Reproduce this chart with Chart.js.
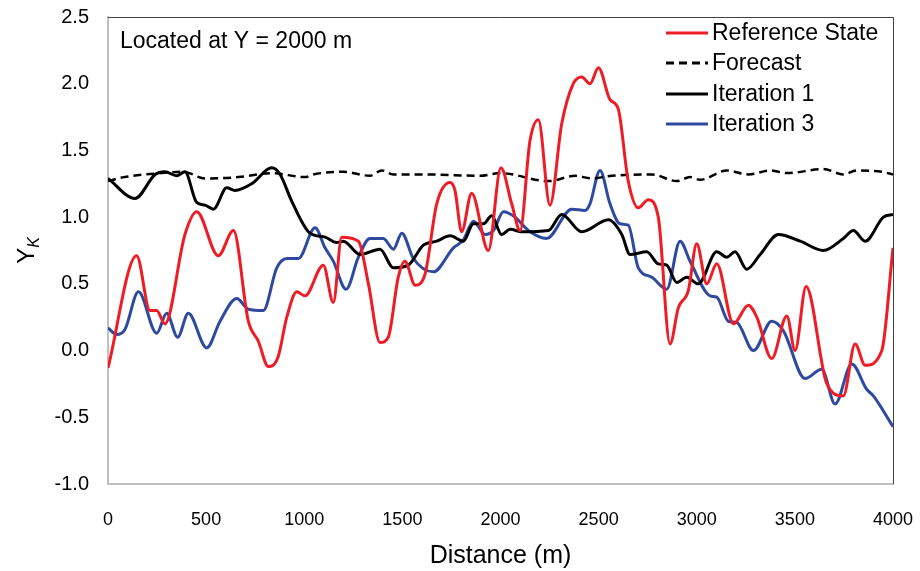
<!DOCTYPE html>
<html>
<head>
<meta charset="utf-8">
<script src="https://cdn.jsdelivr.net/npm/chart.js@4.4.1/dist/chart.umd.min.js"></script>
<style>
  html, body { margin: 0; padding: 0; background: #fff; }
</style>
</head>
<body>
<canvas id="myChart" width="920" height="571"></canvas>
<script>
// values: distance (m) and Y_K
const refX = [0, 146, 214, 248, 290, 392, 452, 562, 639, 715, 766, 817, 866, 911, 962, 1004, 1097, 1148, 1191, 1276, 1327, 1386, 1428, 1479, 1513, 1565, 1615, 1675, 1743, 1768, 1802, 1853, 1938, 2002, 2057, 2100, 2150, 2193, 2252, 2312, 2371, 2414, 2456, 2499, 2558, 2600, 2651, 2702, 2753, 2804, 2864, 2906, 2957, 3000, 3051, 3102, 3187, 3263, 3306, 3382, 3459, 3501, 3557, 3663, 3747, 3807, 3858, 3943, 4000];
const refY = [-0.13, 0.71, 0.30, 0.30, 0.20, 0.87, 1.04, 0.71, 0.90, 0.22, 0.07, -0.12, -0.05, 0.25, 0.44, 0.41, 0.64, 0.36, 0.85, 0.82, 0.50, 0.06, 0.10, 0.55, 0.67, 0.49, 0.57, 1.10, 1.26, 1.20, 0.89, 1.18, 0.75, 1.37, 1.10, 0.90, 1.57, 1.73, 1.09, 1.70, 2.00, 2.05, 2.00, 2.12, 1.88, 1.81, 1.27, 1.07, 1.13, 1.00, 0.05, 0.32, 0.45, 0.80, 0.50, 0.65, 0.20, 0.34, 0.25, -0.06, 0.26, 0.00, 0.48, -0.25, -0.34, 0.05, -0.11, 0.00, 0.77];

const fcX = [0, 82, 273, 384, 494, 664, 834, 1004, 1046, 1199, 1335, 1395, 1454, 1624, 1896, 1998, 2244, 2380, 2465, 2567, 2771, 2898, 2966, 3017, 3153, 3263, 3374, 3459, 3646, 3747, 3815, 3943, 4000];
const fcY = [1.27, 1.30, 1.33, 1.34, 1.29, 1.30, 1.33, 1.30, 1.32, 1.34, 1.31, 1.35, 1.32, 1.32, 1.31, 1.33, 1.27, 1.31, 1.29, 1.31, 1.32, 1.27, 1.30, 1.28, 1.35, 1.32, 1.35, 1.33, 1.36, 1.32, 1.35, 1.34, 1.32];

const it1X = [0, 138, 240, 290, 350, 392, 452, 494, 537, 605, 647, 732, 834, 877, 936, 1029, 1106, 1165, 1199, 1284, 1386, 1454, 1530, 1607, 1675, 1743, 1811, 1862, 1913, 1955, 2006, 2049, 2108, 2244, 2312, 2414, 2550, 2618, 2660, 2745, 2804, 2847, 2898, 2949, 3008, 3102, 3153, 3195, 3255, 3323, 3416, 3527, 3645, 3747, 3798, 3858, 3951, 4000];
const it1Y = [1.29, 1.14, 1.32, 1.34, 1.31, 1.34, 1.11, 1.09, 1.06, 1.22, 1.20, 1.25, 1.37, 1.32, 1.12, 0.88, 0.85, 0.81, 0.82, 0.72, 0.76, 0.62, 0.64, 0.79, 0.82, 0.86, 0.82, 0.95, 0.95, 1.01, 0.87, 0.91, 0.89, 0.90, 1.02, 0.89, 0.98, 0.87, 0.72, 0.74, 0.65, 0.64, 0.51, 0.55, 0.50, 0.74, 0.70, 0.74, 0.61, 0.72, 0.87, 0.82, 0.75, 0.84, 0.90, 0.82, 1.00, 1.02];

const it3X = [0, 44, 87, 155, 248, 299, 355, 409, 503, 571, 656, 715, 791, 860, 911, 970, 1055, 1106, 1148, 1213, 1276, 1335, 1403, 1454, 1497, 1556, 1658, 1760, 1811, 1862, 1921, 1964, 2015, 2074, 2142, 2235, 2363, 2431, 2456, 2507, 2558, 2609, 2651, 2702, 2771, 2847, 2915, 2966, 3068, 3102, 3161, 3204, 3289, 3382, 3441, 3552, 3637, 3705, 3790, 3866, 3900, 4000];
const it3Y = [0.17, 0.12, 0.16, 0.44, 0.13, 0.28, 0.10, 0.28, 0.02, 0.22, 0.39, 0.31, 0.30, 0.62, 0.69, 0.69, 0.92, 0.77, 0.67, 0.46, 0.70, 0.84, 0.84, 0.76, 0.88, 0.69, 0.59, 0.77, 0.83, 0.97, 0.87, 0.90, 1.04, 1.00, 0.90, 0.84, 1.06, 1.05, 1.10, 1.35, 1.10, 0.95, 0.94, 0.62, 0.55, 0.46, 0.82, 0.67, 0.41, 0.40, 0.22, 0.21, 0.00, 0.22, 0.15, -0.21, -0.14, -0.40, -0.10, -0.29, -0.34, -0.57];

const seriesNames = ['Reference State', 'Forecast', 'Iteration 1', 'Iteration 3'];
const xTicks = [0, 500, 1000, 1500, 2000, 2500, 3000, 3500, 4000];
const yTicks = [-1.0, -0.5, 0.0, 0.5, 1.0, 1.5, 2.0, 2.5];
const noteText = 'Located at Y = 2000 m';

const FONT = "'Liberation Sans', Arial, sans-serif";

function pts(xs, ys) {
  return xs.map((x, i) => ({ x: x, y: ys[i] }));
}

// extra drawing: top/right frame, legend box, note, Y_K title
const extras = {
  id: 'extras',
  afterDraw(chart) {
    const ctx = chart.ctx;
    const a = chart.chartArea;
    ctx.save();

    // top and right frame lines
    ctx.strokeStyle = '#404040';
    ctx.lineWidth = 1;
    ctx.beginPath();
    ctx.moveTo(a.left, a.top + 0.5);
    ctx.lineTo(a.right + 0.5, a.top + 0.5);
    ctx.lineTo(a.right + 0.5, a.bottom);
    ctx.stroke();

    // note
    ctx.fillStyle = '#000';
    ctx.font = '23px ' + FONT;
    ctx.textBaseline = 'middle';
    ctx.textAlign = 'left';
    ctx.fillText(noteText, 120, 42);

    // legend
    const rowY = [33, 63, 94, 124];
    chart.data.datasets.forEach((ds, i) => {
      ctx.strokeStyle = ds.borderColor;
      ctx.lineWidth = 3;
      ctx.setLineDash(ds.borderDash || []);
      ctx.beginPath();
      ctx.moveTo(666, rowY[i]);
      ctx.lineTo(708, rowY[i]);
      ctx.stroke();
      ctx.setLineDash([]);
      ctx.fillStyle = '#000';
      ctx.font = '23px ' + FONT;
      ctx.fillText(ds.label, 712, rowY[i] + 1);
    });

    // y axis title: Y with subscript K
    ctx.translate(26, (a.top + a.bottom) / 2);
    ctx.rotate(-Math.PI / 2);
    ctx.fillStyle = '#000';
    ctx.textAlign = 'left';
    ctx.textBaseline = 'alphabetic';
    ctx.font = '24px ' + FONT;
    const wY = ctx.measureText('Y').width;
    ctx.font = 'italic 16px ' + FONT;
    const wK = ctx.measureText('K').width;
    const start = -(wY + wK) / 2;
    ctx.font = '24px ' + FONT;
    ctx.fillText('Y', start, 8);
    ctx.font = 'italic 16px ' + FONT;
    ctx.fillText('K', start + wY, 13);

    ctx.restore();
  }
};

const ctx = document.getElementById('myChart').getContext('2d');

new Chart(ctx, {
  type: 'line',
  data: {
    datasets: [
      { label: seriesNames[0], data: pts(refX, refY), borderColor: '#ee1c25', borderWidth: 3 },
      { label: seriesNames[1], data: pts(fcX, fcY), borderColor: '#000000', borderWidth: 2.5, borderDash: [8, 5] },
      { label: seriesNames[2], data: pts(it1X, it1Y), borderColor: '#000000', borderWidth: 3 },
      { label: seriesNames[3], data: pts(it3X, it3Y), borderColor: '#2e4a9e', borderWidth: 3 }
    ]
  },
  options: {
    responsive: false,
    animation: false,
    events: [],
    layout: { padding: { top: 17, right: 27, left: 0, bottom: 0 } },
    elements: {
      point: { radius: 0 },
      line: { cubicInterpolationMode: 'monotone', fill: false }
    },
    plugins: {
      legend: { display: false },
      tooltip: { enabled: false }
    },
    scales: {
      x: {
        type: 'linear',
        min: 0,
        max: 4000,
        grid: { display: false, drawTicks: false },
        border: { display: true, color: '#c0c0c0', width: 2 },
        afterBuildTicks: (scale) => { scale.ticks = xTicks.map(v => ({ value: v })); },
        afterFit: (scale) => {
          scale.height = 87;
          scale.paddingLeft = 0;
          scale.paddingRight = 0;
        },
        ticks: {
          color: '#000',
          padding: 25,
          maxRotation: 0,
          autoSkip: false,
          font: { family: FONT, size: 18 },
          callback: (v) => String(v)
        },
        title: {
          display: true,
          text: 'Distance (m)',
          color: '#000',
          font: { family: FONT, size: 25 },
          padding: { top: 6, bottom: 0 }
        }
      },
      y: {
        type: 'linear',
        min: -1,
        max: 2.5,
        grid: { display: false, drawTicks: false },
        border: { display: true, color: '#c0c0c0', width: 2 },
        afterBuildTicks: (scale) => { scale.ticks = yTicks.map(v => ({ value: v })); },
        afterFit: (scale) => {
          scale.width = 108;
          scale.paddingTop = 0;
          scale.paddingBottom = 0;
        },
        ticks: {
          color: '#000',
          padding: 19,
          autoSkip: false,
          font: { family: FONT, size: 20 },
          callback: (v) => Number(v).toFixed(1)
        }
      }
    }
  },
  plugins: [extras]
});
</script>
</body>
</html>
